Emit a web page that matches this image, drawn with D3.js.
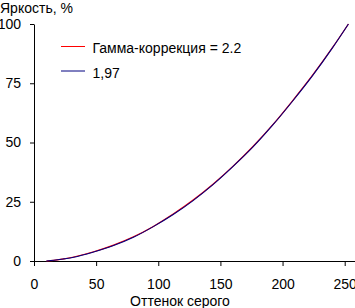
<!DOCTYPE html>
<html>
<head>
<meta charset="utf-8">
<script src="https://cdn.jsdelivr.net/npm/d3@7"></script>
<style>
body { margin: 0; background: #fff; }
text { font-family: "Liberation Sans", Arial, sans-serif; }
</style>
</head>
<body>
<script>
// gray level (x) and brightness %
var gray = [10, 16, 24, 32, 48, 64, 80, 96, 112, 128, 144, 160, 176, 192, 208, 224, 240, 253];
var gamma22 = [0, 0.3, 0.9, 1.7, 3.9, 6.7, 10.2, 14.6, 19.8, 25.7, 32.4, 39.9, 48.2, 57.4, 67.6, 78.3, 89.9, 100];
var gamma197 = [0, 0.3, 0.9, 1.6, 3.8, 6.5, 10.0, 14.5, 19.6, 25.5, 32.2, 39.8, 48.0, 57.3, 67.4, 78.1, 89.8, 100];
var xTicks = [0, 50, 100, 150, 200, 250];
var yTicks = [0, 25, 50, 75, 100];
var legendLabels = ["Гамма-коррекция = 2.2", "1,97"];
var colors = ["#ff0000", "#000080"];

var W = 355, H = 308;
var plotLeft = 34, plotTop = 24, plotBottom = 261;

var svg = d3.select("body").append("svg")
    .attr("width", W)
    .attr("height", H);

var x = d3.scaleLinear().domain([0, 260]).range([plotLeft, plotLeft + 260 * 310.7 / 250]);
var y = d3.scaleLinear().domain([0, 100]).range([plotBottom, plotTop]);

svg.append("g")
    .attr("transform", "translate(0," + plotBottom + ")")
    .call(d3.axisBottom(x).tickValues(xTicks).tickSize(5).tickSizeOuter(0).tickPadding(13));

svg.append("g")
    .attr("transform", "translate(" + plotLeft + ",0)")
    .call(d3.axisLeft(y).tickValues(yTicks).tickSize(4).tickSizeOuter(0).tickPadding(9));

svg.selectAll(".tick text")
    .attr("font-size", 14)
    .attr("font-family", "Liberation Sans, Arial, sans-serif")
    .attr("fill", "#000");
svg.selectAll(".domain, .tick line").attr("stroke", "#000");

var line = d3.line()
    .x(function(d, i) { return x(gray[i]); })
    .y(function(d) { return y(d); })
    .curve(d3.curveMonotoneX);

svg.append("path")
    .datum(gamma22)
    .attr("fill", "none")
    .attr("stroke", colors[0])
    .attr("stroke-width", 1.2)
    .attr("d", line);

svg.append("path")
    .datum(gamma197)
    .attr("fill", "none")
    .attr("stroke", colors[1])
    .attr("stroke-width", 1.1)
    .attr("d", line);

// axis titles
svg.append("text")
    .attr("x", 0)
    .attr("y", 12.5)
    .attr("font-size", 14)
    .text("Яркость, %");

svg.append("text")
    .attr("x", 180)
    .attr("y", 306)
    .attr("text-anchor", "middle")
    .attr("font-size", 14)
    .text("Оттенок серого");

// legend
var legend = svg.selectAll(".legend")
    .data(legendLabels)
    .enter().append("g")
    .attr("transform", function(d, i) { return "translate(61," + (46 + i * 24.5) + ")"; });

legend.append("line")
    .attr("x1", 0).attr("x2", 24)
    .attr("y1", 0.5).attr("y2", 0.5)
    .attr("stroke", function(d, i) { return colors[i]; });

legend.append("text")
    .attr("x", 31.5)
    .attr("y", 7)
    .attr("font-size", 14)
    .text(function(d) { return d; });
</script>
</body>
</html>
